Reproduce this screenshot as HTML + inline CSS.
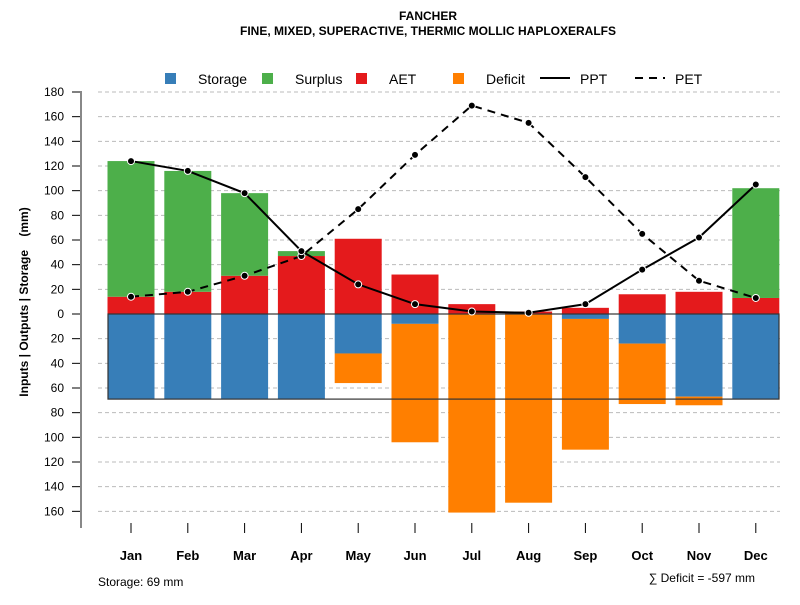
<!DOCTYPE html>
<html><head><meta charset="utf-8"><style>body{margin:0;background:#fff}svg{font-family:"Liberation Sans",sans-serif}</style></head>
<body>
<svg id="chart" width="800" height="600" xmlns="http://www.w3.org/2000/svg">
<text x="428" y="20" text-anchor="middle" font-size="12" font-weight="bold">FANCHER</text>
<text x="428" y="35" text-anchor="middle" font-size="12" font-weight="bold">FINE, MIXED, SUPERACTIVE, THERMIC MOLLIC HAPLOXERALFS</text>
<g id="legend"></g>
<g id="grid"></g><g id="bars"></g><g id="lines"></g><g id="axes"></g>
<text x="28" y="302" transform="rotate(-90 28 302)" text-anchor="middle" font-size="12" font-weight="bold" style="white-space:pre">Inputs | Outputs | Storage    (mm)</text>
<text x="98" y="586" font-size="12">Storage: 69 mm</text>
<text x="755" y="582" text-anchor="end" font-size="12">∑ Deficit = -597 mm</text>
</svg>
<script>
const months=["Jan","Feb","Mar","Apr","May","Jun","Jul","Aug","Sep","Oct","Nov","Dec"];
const ppt=[124,116,98,51,24,8,2,1,8,36,62,105];
const pet=[14,18,31,47,85,129,169,155,111,65,27,13];
const aet=[14,18,31,47,61,32,8,2,5,16,18,13];
const surplus=[110,98,67,4,0,0,0,0,0,0,0,89];
const storage=[69,69,69,69,32,8,0,0,4,24,67,69];
const deficit=[0,0,0,0,24,96,161,153,106,49,7,0];
const yTicks=[180,160,140,120,100,80,60,40,20,0,-20,-40,-60,-80,-100,-120,-140,-160];
const storageCap=69;
const NS="http://www.w3.org/2000/svg";
const y=v=>314-v*(222/180);
const x=i=>131+i*56.8;
const bw=47;
function mk(tag,attrs,parent){const e=document.createElementNS(NS,tag);for(const k in attrs)e.setAttribute(k,attrs[k]);document.getElementById(parent).appendChild(e);return e;}
const C={s:"#377EB8",u:"#4DAF4A",a:"#E41A1C",d:"#FF7F00"};
yTicks.forEach(t=>{
 if(t!==0){const g=mk("line",{x1:98,x2:780,y1:y(t),y2:y(t),stroke:"#bbb","stroke-dasharray":"4,3"},"grid");
 
 }
 const tk=mk("line",{x1:72,x2:81,y1:y(t),y2:y(t),stroke:"#000"},"axes");
 
 
 const tl=mk("text",{x:64,y:y(t)+4,"text-anchor":"end","font-size":"12"},"axes");
 tl.textContent=Math.abs(t);
 
 
});
const ax=mk("line",{x1:81,x2:81,y1:y(180)-1,y2:528,stroke:"#888","stroke-width":2},"axes");


months.forEach((m,i)=>{
 const cx=x(i);
 function bar(v0,v1,col,name){if(v1===v0)return;const r=mk("rect",{x:cx-bw/2,y:Math.min(y(v0),y(v1)),width:bw,height:Math.abs(y(v1)-y(v0)),fill:col},"bars");
  
  }
 bar(0,aet[i],C.a,"aet-bar-"+m.toLowerCase());
 bar(aet[i],aet[i]+surplus[i],C.u,"surplus-bar-"+m.toLowerCase());
 bar(0,-storage[i],C.s,"storage-bar-"+m.toLowerCase());
 bar(-storage[i],-storage[i]-deficit[i],C.d,"deficit-bar-"+m.toLowerCase());
 const t=mk("line",{x1:cx,x2:cx,y1:523,y2:533,stroke:"#000"},"axes");
 
 
 const l=mk("text",{x:cx,y:560,"text-anchor":"middle","font-size":"13","font-weight":"bold"},"axes");
 l.textContent=m;
 
 
});
const box=mk("rect",{x:108,y:y(0),width:671,height:y(-storageCap)-y(0),fill:"none",stroke:"#333","stroke-width":1.2},"bars");


function series(arr,dash,name){
 const p=mk("polyline",{points:arr.map((v,i)=>x(i)+","+y(v)).join(" "),fill:"none",stroke:"#000","stroke-width":2,"stroke-dasharray":dash},"lines");
 
 
 arr.forEach((v,i)=>{const c=mk("circle",{cx:x(i),cy:y(v),r:3.5,fill:"#000",stroke:"#fff","stroke-width":1},"lines");
  
  });
}
series(pet,"8,6","pet");
series(ppt,"none","ppt");
const leg=[["sq",C.s,"Storage",165],["sq",C.u,"Surplus",262],["sq",C.a,"AET",356],["sq",C.d,"Deficit",453],["ln","none","PPT",540],["ln","8,6","PET",635]];
leg.forEach(d=>{
 if(d[0]==="sq"){const r=mk("rect",{x:d[3],y:73,width:11,height:11,fill:d[1]},"legend");
  
  
  const t=mk("text",{x:d[3]+33,y:84,"font-size":"14"},"legend");t.textContent=d[2];
  
  }
 else{const l=mk("line",{x1:d[3],x2:d[3]+30,y1:78,y2:78,stroke:"#000","stroke-width":2,"stroke-dasharray":d[1]},"legend");
  
  
  const t=mk("text",{x:d[3]+40,y:84,"font-size":"14"},"legend");t.textContent=d[2];
  
  }
});
</script>
</body></html>
